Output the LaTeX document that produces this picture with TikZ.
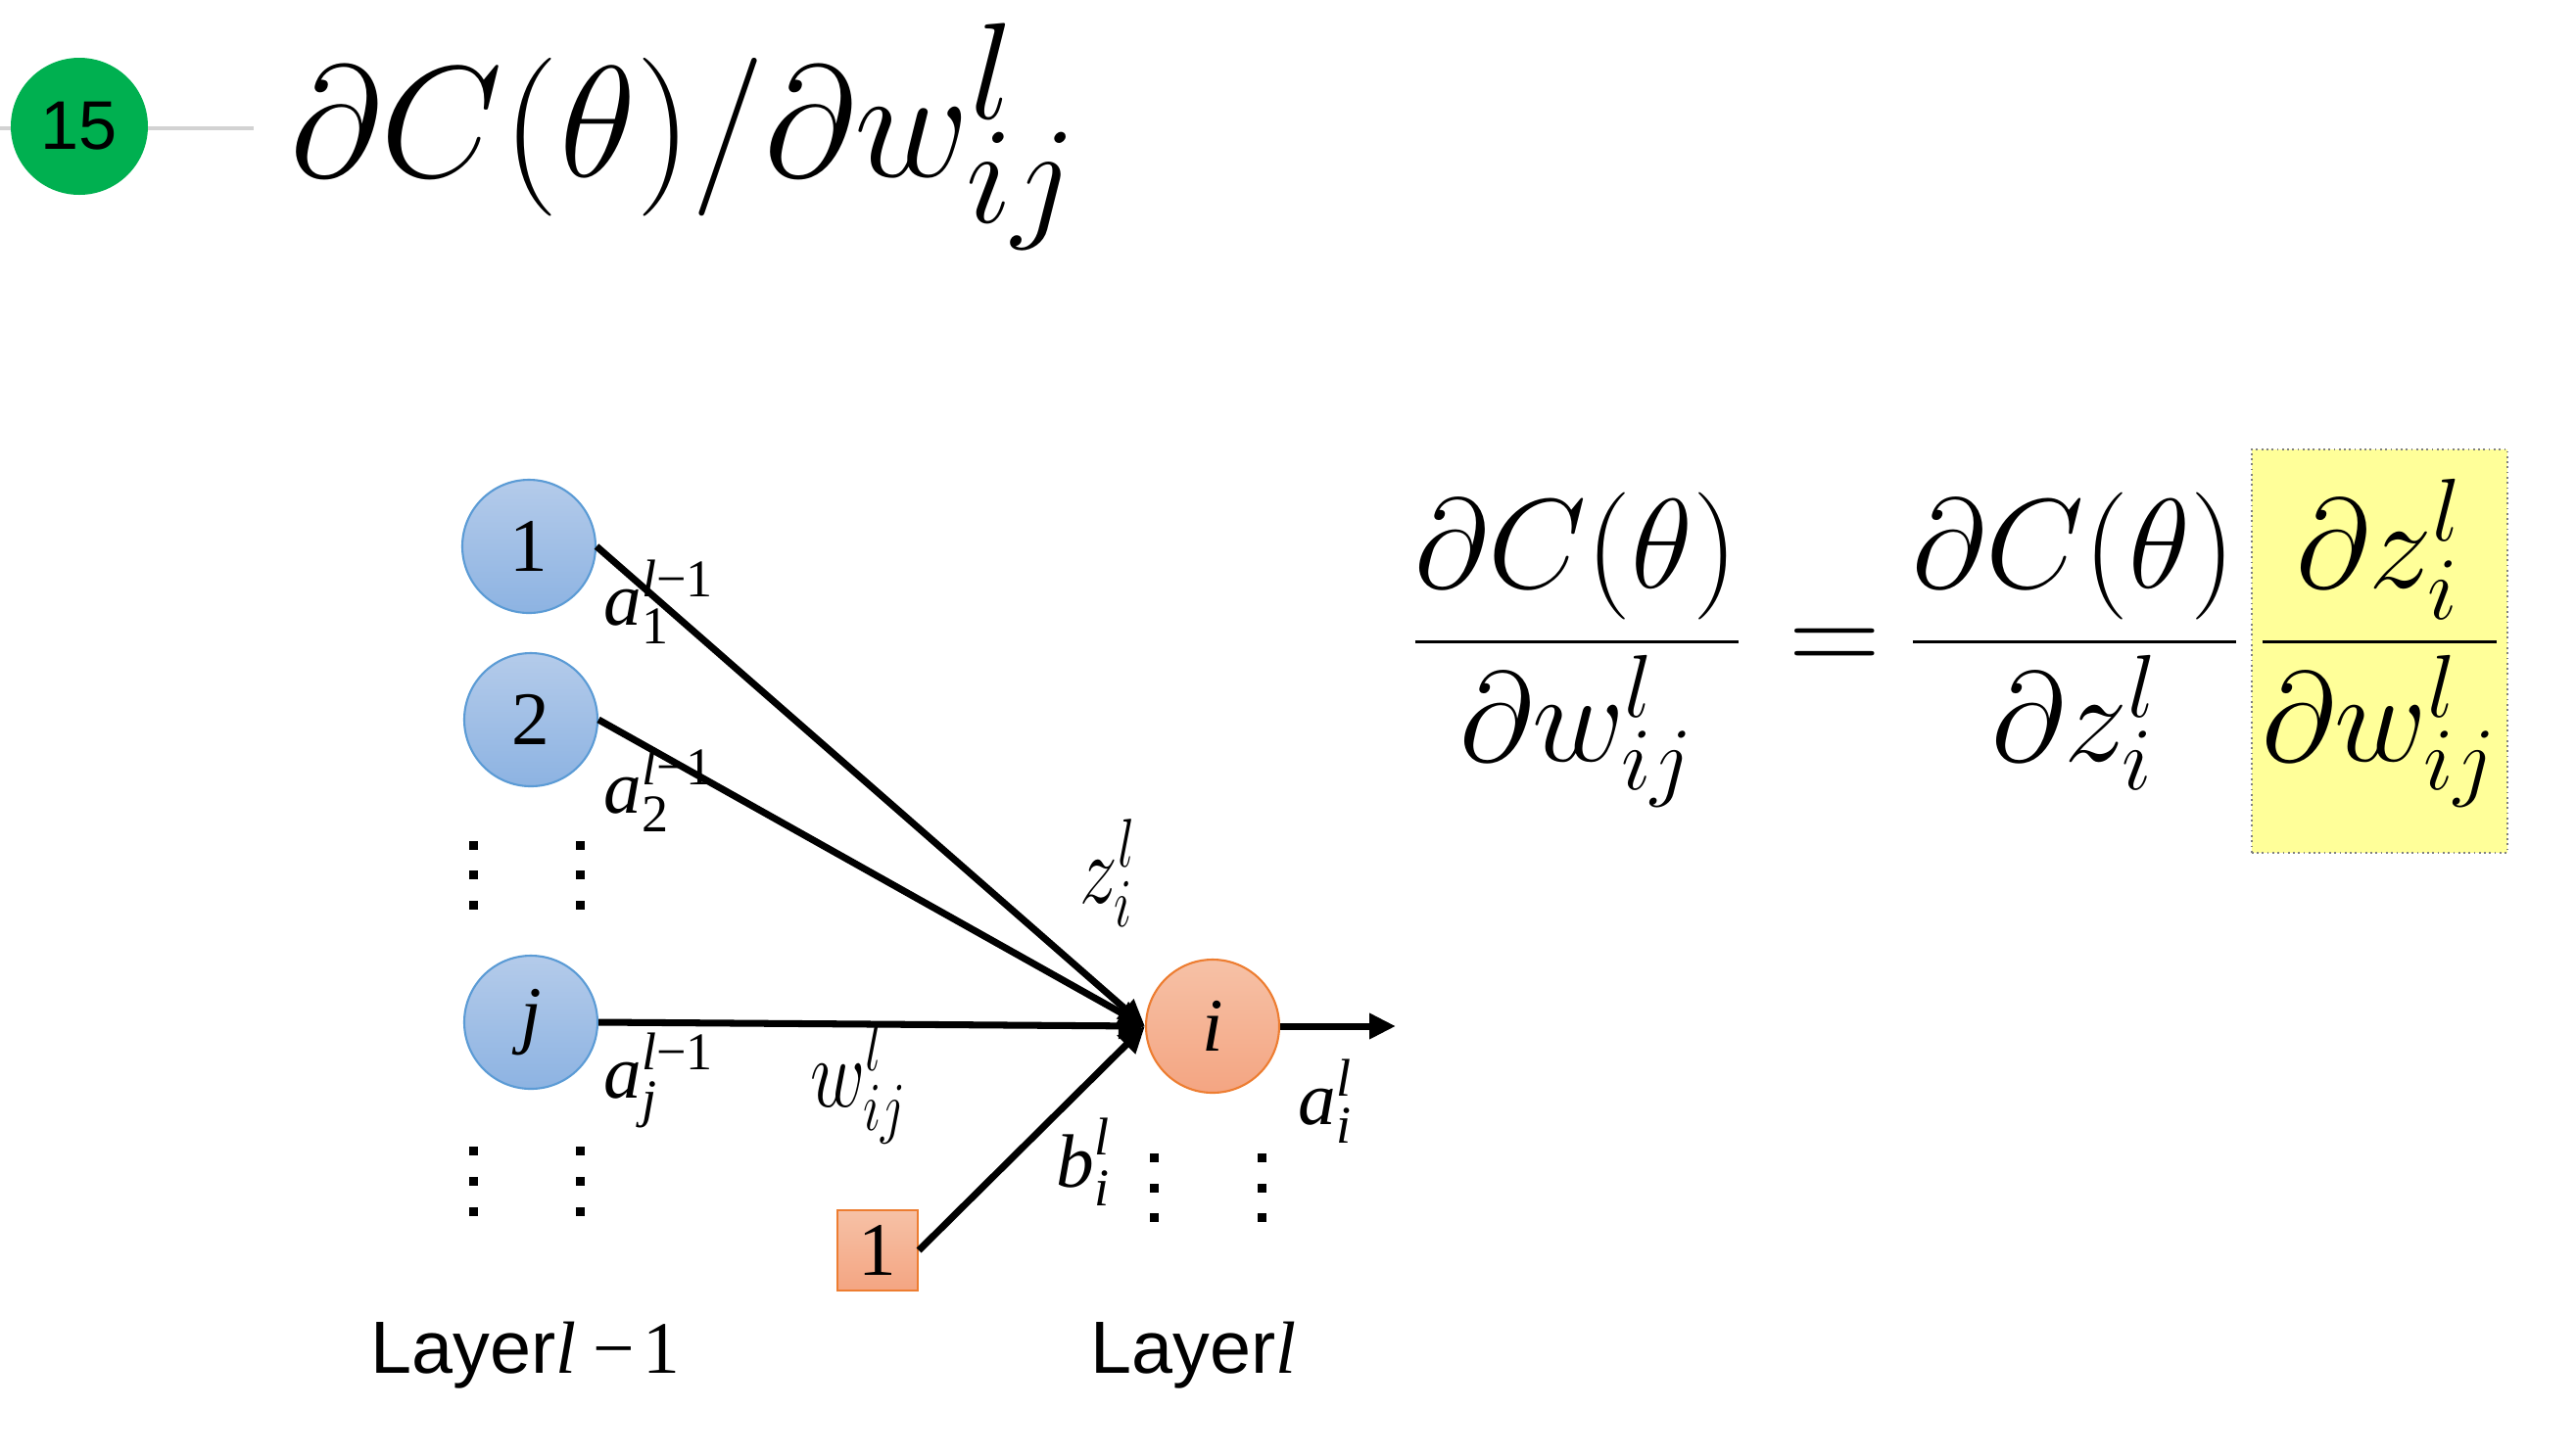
\RequirePackage{fix-cm}
\documentclass[tikz,border=0pt]{standalone}
\usepackage{amsmath}
\usepackage{fontspec}
\usepackage{tikz}
\usetikzlibrary{arrows.meta}
\usetikzlibrary{positioning}

\newfontfamily\tnr{Liberation Serif}
\newfontfamily\arial{Liberation Sans}
\newcommand{\tmi}[1]{\text{\tnr\itshape #1}}
\newcommand{\tmu}[1]{\text{\tnr #1}}
\DeclareMathSizes{46}{46}{40}{30}

\definecolor{nnblue}{RGB}{91,155,213}
\definecolor{nnbluetop}{RGB}{180,203,234}
\definecolor{nnbluebot}{RGB}{141,179,226}
\definecolor{nnorange}{RGB}{237,125,49}
\definecolor{nnorangetop}{RGB}{246,193,166}
\definecolor{nnorangebot}{RGB}{244,165,130}
\definecolor{stepgreen}{RGB}{0,176,80}
\definecolor{hilite}{RGB}{255,255,153}

\begin{document}
\begin{tikzpicture}[
  neuron/.style={circle,minimum size=1.36cm,inner sep=0pt,line width=0.6pt,font=\fontsize{22}{26}\selectfont\tnr},
  inneuron/.style={neuron,draw=nnblue,top color=nnbluetop,bottom color=nnbluebot},
  outneuron/.style={neuron,draw=nnorange,top color=nnorangetop,bottom color=nnorangebot},
  wire/.style={line width=2pt,-{Triangle[length=0.27cm,width=0.25cm]}},
  tlab/.style={inner sep=0pt,anchor=base west,font=\fontsize{22}{26}\selectfont},
  cmlab/.style={inner sep=0pt,anchor=base west,font=\fontsize{22}{26}\selectfont,yscale=1.3,transform shape},
  layer/.style={inner sep=0pt,anchor=base west,font=\fontsize{21.5}{26}\selectfont\arial},
  eqn/.style={inner sep=0pt,anchor=base west,font=\fontsize{37}{44}\selectfont}
]
\useasboundingbox (0,0) rectangle (26.3,-14.86);

% step marker and title
\draw[gray!35,line width=0.9pt] (0,-1.31) -- (2.59,-1.31);
\node[circle,fill=stepgreen,minimum size=1.40cm,inner sep=0pt,font=\fontsize{20}{24}\selectfont\arial] (stepno) at (0.81,-1.29) {15};
\node[anchor=base west,inner sep=0pt,font=\fontsize{46}{55}\selectfont] (title) at (2.96,-1.80) {$\partial C(\theta)/\partial w^l_{ij}$};

% neurons
\node[inneuron] (n1) at (5.40,-5.58) {1};
\node[inneuron] (n2) at (5.42,-7.35) {2};
\node[inneuron] (nj) at (5.42,-10.44) {\itshape j};
\node[outneuron] (ni) at (12.38,-10.48) {\itshape i};
\node[draw=nnorange,top color=nnorangetop,bottom color=nnorangebot,minimum size=0.82cm,inner sep=0pt,line width=0.6pt,font=\fontsize{22}{26}\selectfont\tnr] (bias) at (8.96,-12.77) {1};
\coordinate (out) at (14.25,-10.48);

\draw[wire] (n1.east) -- (ni.west);
\draw[wire] (n2.east) -- (ni.west);
\draw[wire] (nj.east) -- (ni.west);
\draw[wire] (bias.east) -- (ni.west);
\draw[wire] (ni.east) -- (out);

% vertical dots
\foreach \x in {4.83,5.92}
  \foreach \y in {8.63,8.93,9.24,11.75,12.06,12.37}
    \fill (\x-0.045,-\y-0.045) rectangle ++(0.09,0.09);
\foreach \x in {11.78,12.88}
  \foreach \y in {11.82,12.13,12.43}
    \fill (\x-0.045,-\y-0.045) rectangle ++(0.09,0.09);

% labels
\node[tlab] (a1) at (6.16,-6.38) {$\tmi{a}^{\tmi{l}\tmu{−1}}_{\tmu{1}}$};
\node[tlab] (a2) at (6.16,-8.30) {$\tmi{a}^{\tmi{l}\tmu{−1}}_{\tmu{2}}$};
\node[tlab] (aj) at (6.16,-11.21) {$\tmi{a}^{\tmi{l}\tmu{−1}}_{\tmi{j}}$};
\node[cmlab] (zi) at (11.02,-9.22) {$z^l_i$};
\node[cmlab] (wij) at (8.27,-11.30) {$w^l_{ij}$};
\node[tlab] (bi) at (10.78,-12.12) {$\tmi{b}^{\tmi{l}}_{\tmi{i}}$};
\node[tlab] (ai) at (13.25,-11.48) {$\tmi{a}^{\tmi{l}}_{\tmi{i}}$};
\node[layer] (layerprev) at (3.78,-14.02) {Layer{\tnr\itshape l}\hspace{0.22em}{\tnr −\hspace{0.12em}1}};
\node[layer] (layercur) at (11.13,-14.02) {Layer{\tnr\itshape l}};

% chain rule
\node[eqn] (lhs) at (14.40,-6.88) {$\dfrac{\partial C(\theta)}{\partial w^l_{ij}}$};
\node[eqn,anchor=base] (eq) at (18.73,-6.88) {$=$};
\node[eqn] (dCdz) at (19.48,-6.88) {$\dfrac{\partial C(\theta)}{\partial z^l_i}$};
\node[eqn,fill=hilite,draw=gray,densely dotted,line width=0.5pt,inner xsep=0.065cm,inner ysep=0.31cm] (dzdw) at (22.98,-6.88) {$\dfrac{\partial z^l_i}{\partial w^l_{ij}}\rule[-1.52cm]{0pt}{1.52cm}$};
\end{tikzpicture}
\end{document}
